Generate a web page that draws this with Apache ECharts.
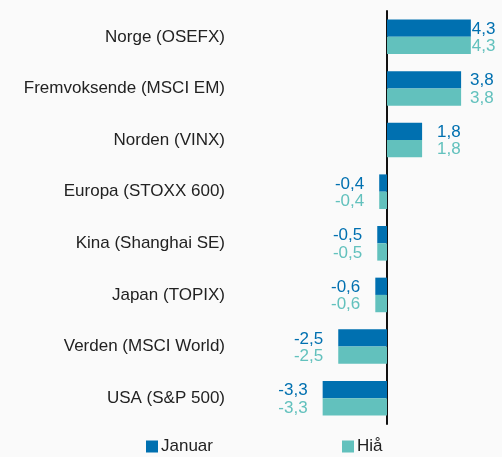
<!DOCTYPE html>
<html><head><meta charset="utf-8">
<script src="https://cdn.jsdelivr.net/npm/echarts@6/dist/echarts.min.js"></script>
<style>html,body{margin:0;padding:0;background:#fafafa}#c{width:502px;height:457px}</style>
</head><body><div id="c"></div>
<script>
const categories = ['Norge (OSEFX)','Fremvoksende (MSCI EM)','Norden (VINX)','Europa (STOXX 600)','Kina (Shanghai SE)','Japan (TOPIX)','Verden (MSCI World)','USA (S&P 500)'];
const januar = [4.3, 3.8, 1.8, -0.4, -0.5, -0.6, -2.5, -3.3];
const hia = [4.3, 3.8, 1.8, -0.4, -0.5, -0.6, -2.5, -3.3];
const seriesNames = ['Januar', 'Hiå'];
const labelDist = [1, 9, 15, 15, 15, 15, 15, 15];

const colors = ['#0070b0', '#62c1bd'];
function mk(vals, i) {
  return {
    name: seriesNames[i], type: 'bar', barGap: 0, barCategoryGap: '33%',
    itemStyle: { color: colors[i] },
    data: vals.map((v, k) => ({
      value: v,
      label: { position: v >= 0 ? 'right' : 'left', distance: labelDist[k] }
    })),
    label: {
      show: true, color: colors[i], fontFamily: 'Liberation Sans', fontSize: 17,
      offset: [0, 1],
      formatter: p => String(p.value).replace('.', ',')
    }
  };
}
const chart = echarts.init(document.getElementById('c'));
chart.setOption({
  backgroundColor: '#fafafa',
  animation: false,
  grid: { left: 231, right: 17.5, top: 11, bottom: 33 },
  xAxis: { type: 'value', min: -8, max: 5, show: false },
  yAxis: {
    type: 'category', data: categories, inverse: true,
    axisLine: { show: true, onZero: true, lineStyle: { color: '#111', width: 2 } },
    axisTick: { show: false },
    axisLabel: { color: '#222', fontFamily: 'Liberation Sans', fontSize: 17, margin: 6 }
  },
  legend: {
    bottom: 2, left: 146, padding: 0, itemGap: 129, itemWidth: 12, itemHeight: 12,
    icon: 'rect',
    textStyle: { color: '#222', fontFamily: 'Liberation Sans', fontSize: 17, padding: [0, 0, 0, -2] },
    data: seriesNames
  },
  series: [mk(januar, 0), mk(hia, 1)]
});
</script></body></html>
